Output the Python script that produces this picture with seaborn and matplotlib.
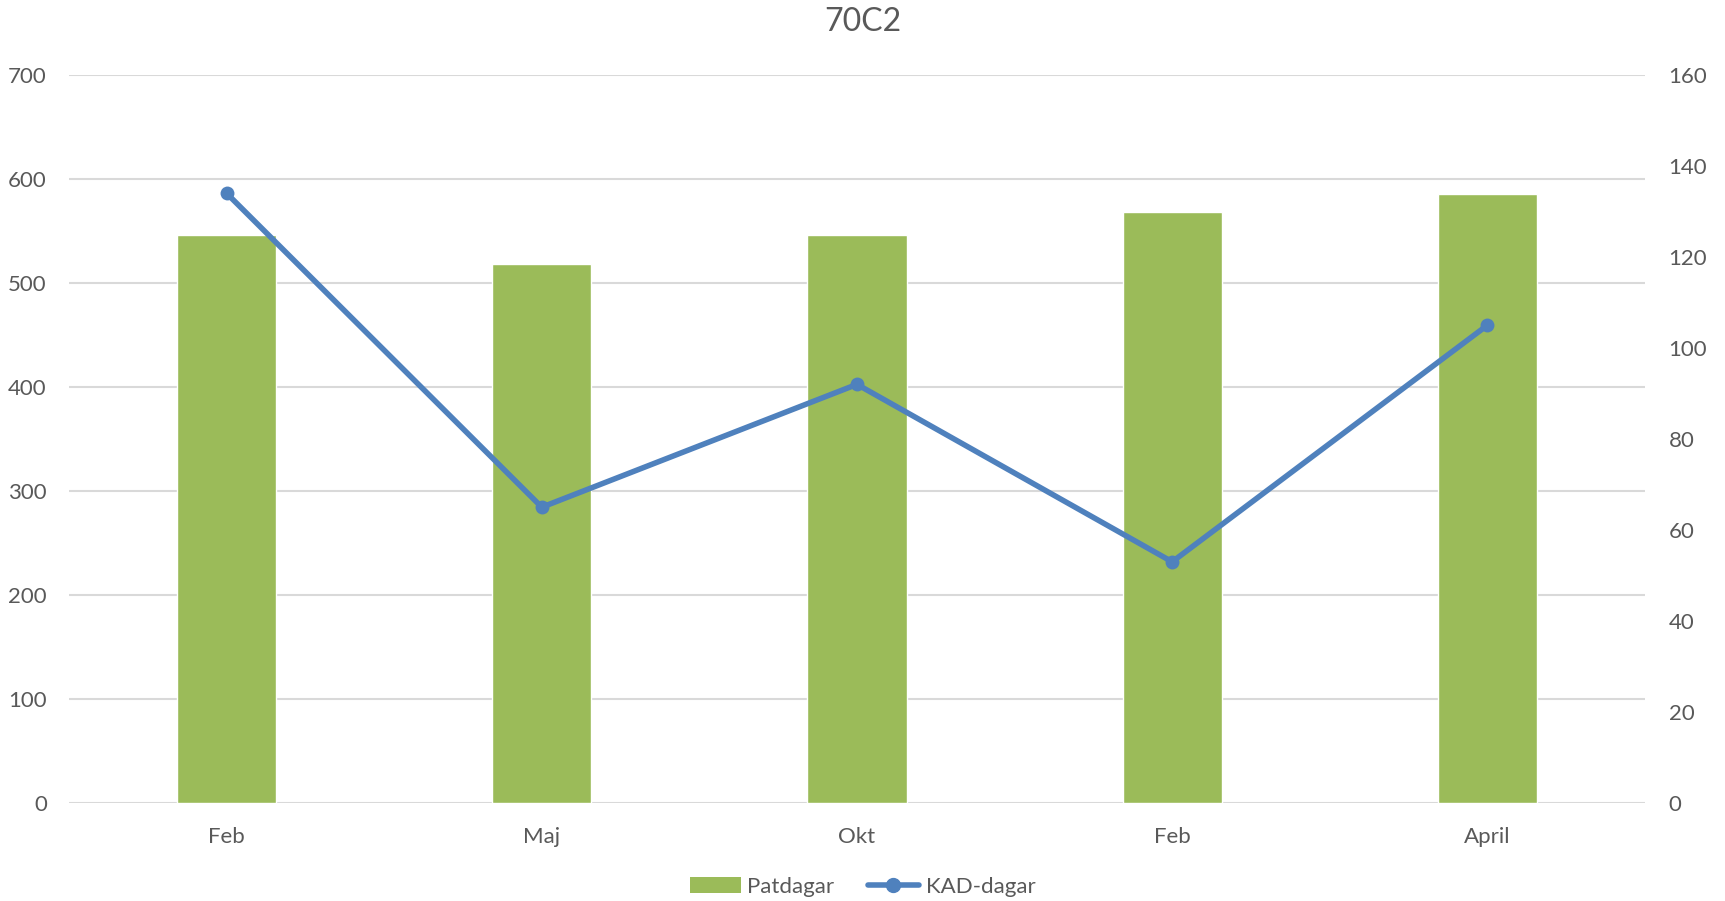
import numpy as np
import matplotlib
matplotlib.use("Agg")
import matplotlib.pyplot as plt
import seaborn as sns
from matplotlib.patches import Patch
from matplotlib.lines import Line2D

# data
months = ["Feb", "Maj", "Okt", "Feb", "April"]
patdagar = [546, 518, 546, 568, 586]
kad_dagar = [134, 65, 92, 53, 105]

GREEN = "#9BBB59"
BLUE = "#4F81BD"
TXT = "#595959"

sns.set_theme(style="white")
plt.rcParams['font.family'] = ['Lato', 'DejaVu Sans']

fig = plt.figure(figsize=(17.25, 9.01), dpi=100)
ax = fig.add_axes([0.04, 0.1088, 0.9136, 0.808])
pos = np.arange(len(months))

# staplar - vänster axel
sns.barplot(x=pos, y=patdagar, color=GREEN, width=0.315, saturation=1, ax=ax, zorder=2)
ax.set_xlim(-0.5, len(months) - 0.5)
ax.set_ylim(0, 700)
ax.set_yticks(range(0, 701, 100))
ax.set_xticks(pos)
ax.set_xticklabels(months)
ax.grid(axis="y", color="#d9d9d9", linewidth=1.5, zorder=0)
ax.set_axisbelow(True)

# linje - höger axel
ax2 = ax.twinx()
sns.lineplot(x=pos, y=kad_dagar, color=BLUE, linewidth=4, marker="o",
             markersize=10, markeredgewidth=0, ax=ax2)
ax2.set_ylim(0, 160)
ax2.set_yticks(range(0, 161, 20))
ax2.grid(False)

for a in (ax, ax2):
    for s in a.spines.values():
        s.set_visible(False)
    a.tick_params(length=0, labelsize=16, labelcolor=TXT)
ax.tick_params(axis="y", pad=16)
ax.tick_params(axis="x", pad=17)
ax2.tick_params(axis="y", pad=17)

fig.suptitle("70C2", y=0.992, fontsize=23, color=TXT)

handles = [Patch(facecolor=GREEN, edgecolor="none"),
           Line2D([0], [0], color=BLUE, linewidth=4, marker="o", markersize=10)]
fig.legend(handles, ["Patdagar", "KAD-dagar"], loc="center", bbox_to_anchor=(0.5, 0.016),
           ncol=2, frameon=False, fontsize=16, labelcolor=TXT, handlelength=2.3,
           columnspacing=1.5, handletextpad=0.3)

fig.savefig("out.png", dpi=100)
